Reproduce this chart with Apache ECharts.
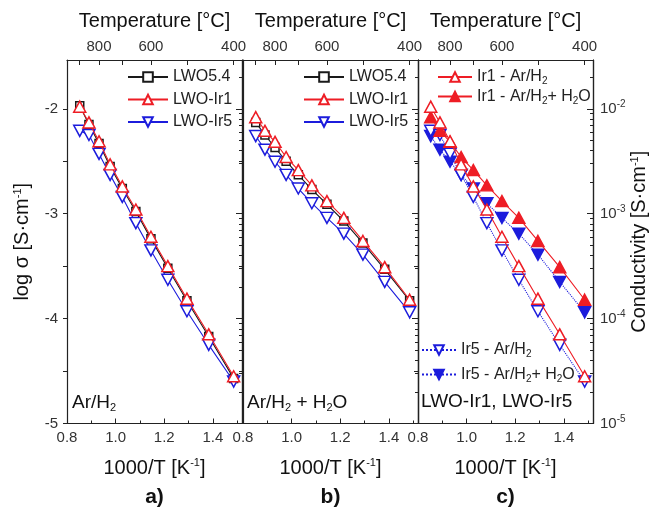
<!DOCTYPE html>
<html>
<head>
<meta charset="utf-8">
<script src="https://cdn.jsdelivr.net/npm/echarts@6/dist/echarts.min.js"></script>
<style>html,body{margin:0;padding:0;background:#fff;}#c{width:651px;height:510px;}</style>
</head>
<body>
<div id="c"></div>
<script>
// 1000/T [K^-1] for 900, 850, ..., 400 °C
const xVals = [0.8524, 0.8903, 0.9318, 0.9774, 1.0276, 1.0833, 1.1453, 1.2148, 1.2934, 1.3831, 1.4856];
// panel a) Ar/H2  (log sigma)
const lwo54_dry = [-1.97, -2.15, -2.33, -2.55, -2.76, -2.98, -3.24, -3.52, -3.83, -4.17, -4.57];
const ir1_dry   = [-1.98, -2.13, -2.31, -2.53, -2.74, -2.96, -3.22, -3.50, -3.81, -4.15, -4.55];
const ir5_dry   = [-2.21, -2.25, -2.43, -2.63, -2.84, -3.09, -3.35, -3.63, -3.93, -4.25, -4.60];
// panel b) Ar/H2 + H2O
const lwo54_wet = [-2.13, -2.25, -2.37, -2.50, -2.63, -2.77, -2.91, -3.07, -3.28, -3.53, -3.83];
const ir1_wet   = [-2.08, -2.21, -2.315, -2.46, -2.585, -2.73, -2.88, -3.04, -3.26, -3.51, -3.82];
const ir5_wet   = [-2.26, -2.39, -2.505, -2.63, -2.76, -2.90, -3.04, -3.19, -3.39, -3.65, -3.94];
// tick labels
const xTickLabels = [0.8, 1.0, 1.2, 1.4];
const tempTicks = [900, 800, 700, 600, 500, 400];
const tempTickLabels = [800, 600, 400];
const yTickLabels = [-5, -4, -3, -2];
const yHalfTicks = [-5, -4.5, -4, -3.5, -3, -2.5, -2];
const panelNames = ['a)', 'b)', 'c)'];

const FONT = 'Liberation Sans, Arial, sans-serif';
const RED = '#ee1d25', BLUE = '#1c1cdc', BLACK = '#1a1a1a', AX = '#222';
const X_MIN = 0.8, X_MAX = 1.52, Y_MIN = -5, Y_MAX = -1.535;
const lefts = [67, 243, 418];
const W = 175;

const toInvT = t => 1000 / (t + 273.15);
const minorLog = [];
for (let n = -5; n <= -2; n++) for (let k = 2; k <= 9; k++) { const v = n + Math.log10(k); if (v < Y_MAX) minorLog.push(v); }

const axLine = {show: true, onZero: false, lineStyle: {color: AX, width: 1.2}};
const lblStyle = {color: '#333', fontSize: 15, fontFamily: FONT};

const grid = lefts.map(l => ({left: l, top: 60, width: W, height: 363.5}));
const xAxis = [], yAxis = [];
lefts.forEach((l, i) => {
  xAxis.push({
    type: 'value', gridIndex: i, min: X_MIN, max: X_MAX, interval: 0.2, position: 'bottom',
    axisLine: axLine, splitLine: {show: false},
    axisTick: {inside: true, length: 5, lineStyle: {color: AX}},
    minorTick: {show: true, splitNumber: 2, length: 3, lineStyle: {color: AX}},
    axisLabel: Object.assign({customValues: xTickLabels, formatter: v => v.toFixed(1), margin: 7}, lblStyle),
    name: '{n|1000/T [K}{sup|-1}{n|]}', nameLocation: 'middle', nameGap: 34,
    nameTextStyle: {rich: {n: {fontSize: 20, fontFamily: FONT, color: '#111'}, sup: {fontSize: 11, fontFamily: FONT, color: '#111', padding: [0, 0, 10, 0]}}}
  });
  xAxis.push({
    type: 'value', gridIndex: i, min: X_MIN, max: X_MAX, position: 'top',
    axisLine: axLine, splitLine: {show: false},
    axisTick: {inside: true, length: 5, customValues: tempTicks.map(toInvT), lineStyle: {color: AX}},
    axisLabel: Object.assign({customValues: tempTickLabels.map(toInvT), formatter: v => String(Math.round(1000 / v - 273.15)), margin: 6}, lblStyle),
    name: 'Temperature [°C]', nameLocation: 'middle', nameGap: 29,
    nameTextStyle: {fontSize: 20, fontFamily: FONT, color: '#111'}
  });
  yAxis.push({
    type: 'value', gridIndex: i, min: Y_MIN, max: Y_MAX, position: 'left',
    axisLine: axLine, splitLine: {show: false},
    axisTick: {inside: false, length: 4, customValues: yHalfTicks, lineStyle: {color: AX}},
    axisLabel: i === 0 ? Object.assign({customValues: yTickLabels, formatter: v => String(v), margin: 9}, lblStyle) : {show: false},
    name: i === 0 ? '{n|log σ [S·cm}{sup|-1}{n|]}' : '', nameLocation: 'middle', nameRotate: 90, nameGap: 34,
    nameTextStyle: {rich: {n: {fontSize: 20, fontFamily: FONT, color: '#111'}, sup: {fontSize: 11, fontFamily: FONT, color: '#111', padding: [0, 0, 10, 0]}}}
  });
  yAxis.push({
    type: 'value', gridIndex: i, min: Y_MIN, max: Y_MAX, position: 'right',
    axisLine: axLine, splitLine: {show: false},
    axisTick: {inside: true, length: 6, customValues: yTickLabels, lineStyle: {color: AX}},
    axisLabel: i === 2 ? {customValues: yTickLabels, margin: 7, formatter: v => '{b|10}{s|' + v + '}',
      rich: {b: {fontSize: 15, fontFamily: FONT, color: '#333'}, s: {fontSize: 10, fontFamily: FONT, color: '#333', padding: [0, 0, 9, 0]}}} : {show: false},
    name: i === 2 ? '{n|Conductivity [S·cm}{sup|-1}{n|]}' : '', nameLocation: 'middle', nameRotate: 90, nameGap: 36,
    nameTextStyle: {rich: {n: {fontSize: 20, fontFamily: FONT, color: '#111'}, sup: {fontSize: 11, fontFamily: FONT, color: '#111', padding: [0, 0, 10, 0]}}}
  });
  yAxis.push({
    type: 'value', gridIndex: i, min: Y_MIN, max: Y_MAX, position: 'right',
    axisLine: axLine, splitLine: {show: false},
    axisTick: {inside: true, length: 3, customValues: minorLog, lineStyle: {color: AX}},
    axisLabel: {show: false}
  });
});

function mk(name, gi, vals, color, symbol, rotate, filled, lineType, size, z) {
  return {
    type: 'line', name, xAxisIndex: gi * 2, yAxisIndex: gi * 3,
    data: xVals.map((x, j) => [x, vals[j]]),
    symbol, symbolRotate: rotate, symbolSize: size, showAllSymbol: true,
    itemStyle: {color: filled ? color : '#fff', borderColor: color, borderWidth: 1.5},
    lineStyle: {color, width: 1.1, type: lineType},
    z, animation: false, emphasis: {disabled: true}
  };
}
const TRI = [12, 11];
const series = [
  mk('LWO5.4', 0, lwo54_dry, BLACK, 'rect', 0, false, 'solid', 8, 2),
  mk('LWO-Ir5', 0, ir5_dry, BLUE, 'triangle', 180, false, 'solid', TRI, 3),
  mk('LWO-Ir1', 0, ir1_dry, RED, 'triangle', 0, false, 'solid', TRI, 4),
  mk('LWO5.4', 1, lwo54_wet, BLACK, 'rect', 0, false, 'solid', 8, 2),
  mk('LWO-Ir5', 1, ir5_wet, BLUE, 'triangle', 180, false, 'solid', TRI, 3),
  mk('LWO-Ir1', 1, ir1_wet, RED, 'triangle', 0, false, 'solid', TRI, 4),
  mk('Ir5 - Ar/H2+ H2O', 2, ir5_wet, BLUE, 'triangle', 180, true, 'dotted', TRI, 2),
  mk('Ir5 - Ar/H2', 2, ir5_dry, BLUE, 'triangle', 180, false, 'dotted', TRI, 3),
  mk('Ir1 - Ar/H2+ H2O', 2, ir1_wet, RED, 'triangle', 0, true, 'solid', TRI, 4),
  mk('Ir1 - Ar/H2', 2, ir1_dry, RED, 'triangle', 0, false, 'solid', TRI, 5)
];

const legRich = {
  n: {fontSize: 16, fontFamily: FONT, color: '#222'},
  s: {fontSize: 10, fontFamily: FONT, color: '#222', padding: [9, 0, 0, 0]}
};
const subFmt = name => '{n|' + name.replace(/H2/g, 'H}{s|2}{n|') + '}';
function leg(data, left, top, gap, w) {
  return {data, left, top, orient: 'vertical', itemWidth: w, itemHeight: 12, itemGap: gap, padding: 0,
    selectedMode: false, formatter: subFmt, textStyle: {rich: legRich, padding: [0, 0, 0, 0]}};
}
const legend = [
  leg(['LWO5.4', 'LWO-Ir1', 'LWO-Ir5'], 127, 69, 6.5, 40),
  leg(['LWO5.4', 'LWO-Ir1', 'LWO-Ir5'], 303, 69, 6.5, 40),
  leg(['Ir1 - Ar/H2', 'Ir1 - Ar/H2+ H2O'], 437, 69, 2, 34),
  leg(['Ir5 - Ar/H2', 'Ir5 - Ar/H2+ H2O'], 421, 342, 7, 34)
];

const pRich = {
  n: {fontSize: 19, fontFamily: FONT, color: '#111', fontWeight: 'normal'},
  s: {fontSize: 11, fontFamily: FONT, color: '#111', fontWeight: 'normal', padding: [10, 0, 0, 0]}
};
const title = [
  {text: subFmt('Ar/H2'), left: 72, top: 392, padding: 0, textStyle: {rich: pRich, fontWeight: 'normal'}},
  {text: subFmt('Ar/H2 + H2O'), left: 247, top: 392, padding: 0, textStyle: {rich: pRich, fontWeight: 'normal'}},
  {text: '{n|LWO-Ir1, LWO-Ir5}', left: 421, top: 392, padding: 0, textStyle: {rich: pRich, fontWeight: 'normal'}}
].concat(panelNames.map((p, i) => ({
  text: p, left: lefts[i] + W / 2, textAlign: 'center', top: 487, padding: 0,
  textStyle: {fontSize: 21, fontWeight: 'bold', fontFamily: FONT, color: '#111'}
})));

const chart = echarts.init(document.getElementById('c'), null, {renderer: 'canvas'});
chart.setOption({animation: false, backgroundColor: '#fff', grid, xAxis, yAxis, series, legend, title});
</script>
</body>
</html>
